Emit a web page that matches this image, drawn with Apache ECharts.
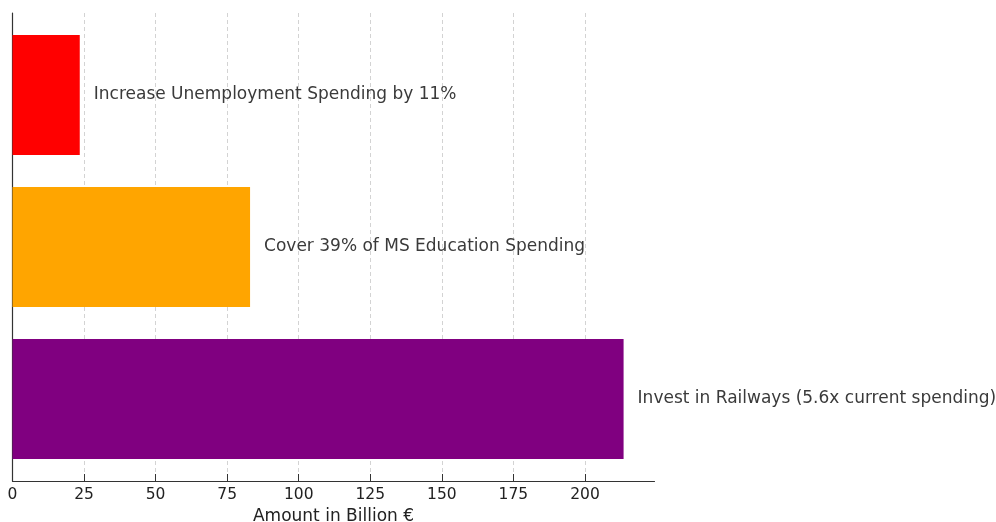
<!DOCTYPE html>
<html>
<head>
<meta charset="utf-8">
<script src="https://cdn.jsdelivr.net/npm/echarts@6/dist/echarts.min.js"></script>
<style>
html,body{margin:0;padding:0;background:#fff;}
#chart{width:996px;height:522px;}
</style>
</head>
<body>
<div id="chart"></div>
<script>
// Data
var categories = ['Unemployment', 'Education', 'Railways'];
var values = [23.5, 83, 213.5];
var barLabels = [
  'Increase Unemployment Spending by 11%',
  'Cover 39% of MS Education Spending',
  'Invest in Railways (5.6x current spending)'
];
var barColors = ['#ff0000', '#ffa500', '#800080'];
var xTicks = [0, 25, 50, 75, 100, 125, 150, 175, 200];
var xTitle = 'Amount in Billion €';

var xMax = 224.3;
var font = 'DejaVu Sans';
var chart = echarts.init(document.getElementById('chart'));

chart.setOption({
  animation: false,
  textStyle: { fontFamily: font },
  grid: [
    { left: 12.5, top: 13, width: 642, height: 468, outerBoundsMode: 'none', containLabel: false },
    { left: 12.5, top: 19.1, width: 642, height: 455.8, outerBoundsMode: 'none', containLabel: false }
  ],
  xAxis: [
    {
      gridIndex: 0, type: 'value', min: 0, max: xMax, interval: 25,
      name: xTitle, nameLocation: 'middle', nameGap: 25,
      nameTextStyle: { fontSize: 17, color: '#222', fontFamily: font },
      axisLine: { show: true, lineStyle: { color: '#333', width: 1.2 } },
      axisTick: { show: true, inside: true, length: 7, lineStyle: { color: '#333' } },
      axisLabel: {
        fontSize: 15.5, color: '#222', margin: 6, fontFamily: font,
        formatter: function (v) { return xTicks.indexOf(v) >= 0 ? String(v) : ''; },
        showMaxLabel: false
      },
      splitLine: { show: true, showMaxLine: false, lineStyle: { color: '#c8c8c8', type: [4, 3], width: 0.8 } }
    },
    {
      gridIndex: 1, type: 'value', min: 0, max: xMax, show: false
    }
  ],
  yAxis: [
    {
      gridIndex: 0, type: 'value', min: 0, max: 1,
      axisLine: { show: true, lineStyle: { color: '#333', width: 1.2 } },
      axisTick: { show: false }, axisLabel: { show: false }, splitLine: { show: false }
    },
    {
      gridIndex: 1, type: 'category', data: categories, inverse: true,
      axisLine: { show: false }, axisTick: { show: false }, axisLabel: { show: false },
      splitLine: { show: false }
    }
  ],
  series: [{
    type: 'bar',
    xAxisIndex: 1, yAxisIndex: 1,
    barWidth: '79%',
    data: values.map(function (v, i) {
      return { value: v, itemStyle: { color: barColors[i] } };
    }),
    label: {
      show: true, position: 'right', distance: 14,
      fontSize: 17, color: '#3a3a3a', fontFamily: font,
      formatter: function (p) { return barLabels[p.dataIndex]; }
    }
  }]
});
</script>
</body>
</html>
